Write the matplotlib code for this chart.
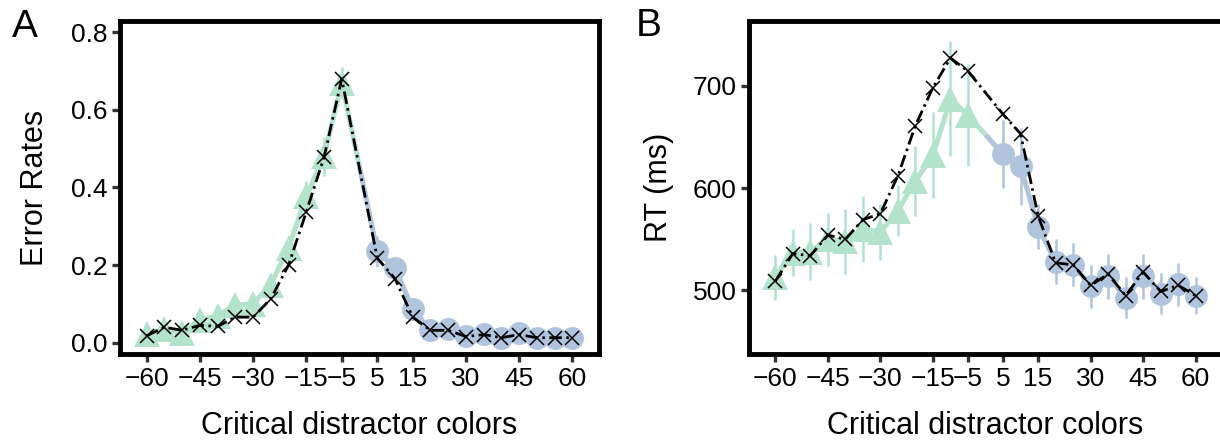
import matplotlib
matplotlib.use("Agg")
import matplotlib.pyplot as plt
import numpy as np

plt.rcParams['font.family'] = ['Liberation Sans', 'DejaVu Sans']

# ---- data ----
x_neg = [-60, -55, -50, -45, -40, -35, -30, -25, -20, -15, -10, -5]
x_pos = [5, 10, 15, 20, 25, 30, 35, 40, 45, 50, 55, 60]
x_ticks = [-60, -45, -30, -15, -5, 5, 15, 30, 45, 60]

err_green = [0.022, 0.035, 0.025, 0.058, 0.070, 0.097, 0.100, 0.150, 0.245, 0.377, 0.480, 0.670]
err_green_se = [0.006, 0.008, 0.006, 0.010, 0.010, 0.012, 0.012, 0.015, 0.020, 0.040, 0.050, 0.040]
err_blue = [0.236, 0.193, 0.087, 0.032, 0.035, 0.018, 0.022, 0.013, 0.024, 0.013, 0.013, 0.013]
err_blue_se = [0.040, 0.020, 0.020, 0.008, 0.008, 0.006, 0.006, 0.005, 0.006, 0.005, 0.005, 0.005]
err_model = [0.018, 0.040, 0.032, 0.045, 0.042, 0.066, 0.066, 0.113, 0.200, 0.337, 0.478, 0.680,
             0.218, 0.165, 0.066, 0.032, 0.032, 0.016, 0.021, 0.013, 0.021, 0.013, 0.013, 0.013]

rt_green = [513, 537, 538, 550, 548, 560, 557, 578, 607, 632, 687, 671]
rt_green_se = [22, 23, 28, 26, 32, 32, 27, 25, 34, 42, 56, 50]
rt_blue = [633, 621, 562, 528, 525, 504, 514, 493, 514, 497, 506, 495]
rt_blue_se = [33, 38, 22, 22, 21, 21, 22, 20, 22, 20, 21, 18]
rt_model = [509, 536, 534, 554, 550, 569, 575, 612, 661, 698, 727, 714,
            672, 653, 573, 527, 525, 505, 516, 495, 518, 499, 505, 495]

GREEN = '#b3e2cd'
BLUE = '#b0c4de'

W, H = 1220, 440
fig = plt.figure(figsize=(W / 100, H / 100), dpi=100)
axA = fig.add_axes([120 / W, 1 - 354 / H, (599 - 120) / W, (354 - 21) / H])
axB = fig.add_axes([749 / W, 1 - 354 / H, (1222 - 749) / W, (354 - 21) / H])


def draw(ax, g, gse, b, bse, m):
    # colored connecting line, switching colour half-way between -5 and 5
    mid_y = (g[-1] + b[0]) / 2.0
    mid_x = (x_neg[-1] + x_pos[0]) / 2.0
    ax.plot(x_neg + [mid_x], g + [mid_y], color=GREEN, lw=3.6, zorder=2,
            solid_capstyle='butt')
    ax.plot([mid_x] + x_pos, [mid_y] + b, color=BLUE, lw=3.6, zorder=2,
            solid_capstyle='butt')
    ax.errorbar(x_neg, g, yerr=gse, fmt='none', ecolor=GREEN, elinewidth=1.8,
                capsize=0, zorder=1.5)
    ax.errorbar(x_pos, b, yerr=bse, fmt='none', ecolor=BLUE, elinewidth=1.8,
                capsize=0, zorder=1.5)
    ax.plot(x_neg, g, linestyle='none', marker='^', ms=19, color=GREEN,
            markeredgewidth=0, zorder=3)
    ax.plot(x_pos, b, linestyle='none', marker='o', ms=16.5, color=BLUE,
            markeredgewidth=0, zorder=3)
    ln, = ax.plot(x_neg + x_pos, m, color='black', lw=2.0, zorder=4,
                  marker='x', ms=10, mew=1.1)
    ln.set_dashes([4.5, 1.6, 0.9, 1.6])

    ax.set_xlim(-67.5, 67.5)
    ax.set_xticks(x_ticks)
    ax.set_xticklabels([f"\u2212{abs(t)}" if t < 0 else str(t) for t in x_ticks])
    for s in ax.spines.values():
        s.set_linewidth(3.5)
        s.set_color('black')
    ax.tick_params(axis='both', length=6, width=2.4, color='#333333',
                   labelsize=19, pad=3)
    ax.set_xlabel('Critical distractor colors', fontsize=22)
    ax.xaxis.set_label_coords(0.5, -0.171)


draw(axA, err_green, err_green_se, err_blue, err_blue_se, err_model)
axA.set_ylim(-0.029, 0.829)
axA.set_yticks([0.0, 0.2, 0.4, 0.6, 0.8])
axA.set_yticklabels(['0.0', '0.2', '0.4', '0.6', '0.8'])
axA.set_ylabel('Error Rates', fontsize=22)
axA.yaxis.set_label_coords(-0.147, 0.5)

draw(axB, rt_green, rt_green_se, rt_blue, rt_blue_se, rt_model)
axB.set_ylim(438, 763)
axB.set_yticks([500, 600, 700])
axB.set_ylabel('RT (ms)', fontsize=22)
axB.yaxis.set_label_coords(-0.158, 0.5)

fig.text(25 / W, 1 - 27 / H, 'A', fontsize=28, ha='center', va='center')
fig.text(649 / W, 1 - 26 / H, 'B', fontsize=28, ha='center', va='center')

fig.savefig('out.png', dpi=100)
